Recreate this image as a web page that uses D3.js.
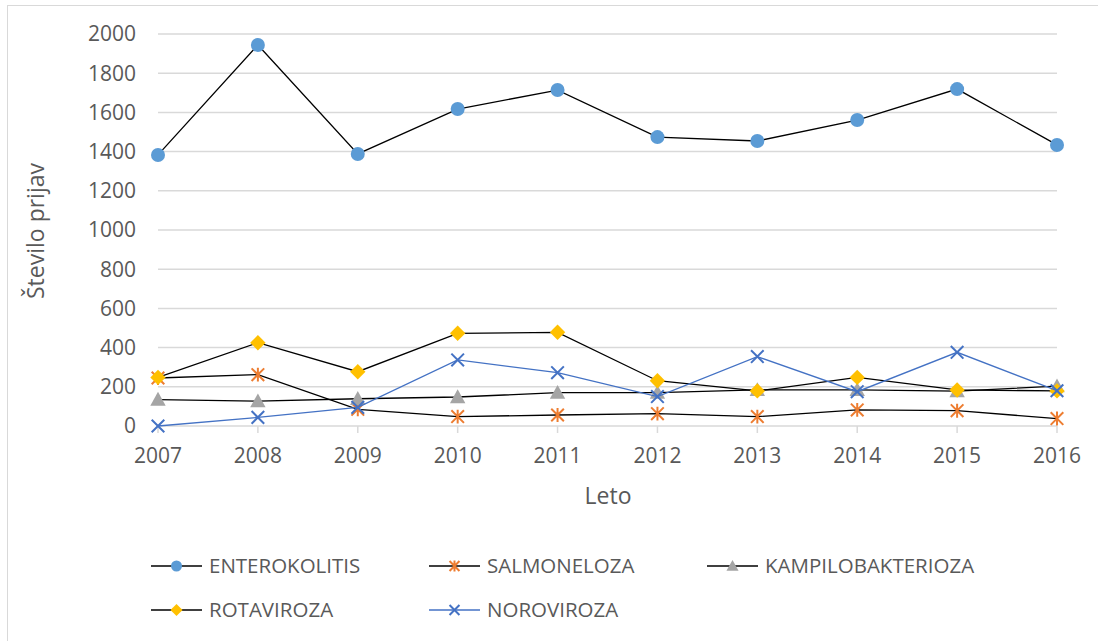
<!DOCTYPE html>
<html><head><meta charset="utf-8">
<script src="https://cdn.jsdelivr.net/npm/d3@7"></script>
<style>body{margin:0;background:#fff}svg{display:block}text{font-family:"Open Sans",sans-serif;fill:#595959}</style>
</head><body><svg id="c" width="1098" height="641"></svg>
<script>
const years = ["2007","2008","2009","2010","2011","2012","2013","2014","2015","2016"];
const yTicks = [0,200,400,600,800,1000,1200,1400,1600,1800,2000];
const enterokolitis = [1383,1944,1388,1617,1714,1474,1454,1561,1719,1434];
const salmoneloza = [245,262,85,48,56,63,48,82,78,38];
const kampilobakterioza = [135,127,139,148,170,170,184,184,178,203];
const rotaviroza = [248,425,277,473,478,231,179,248,184,179];
const noroviroza = [0,44,95,337,272,150,354,175,376,180];
const seriesNames = ["ENTEROKOLITIS","SALMONELOZA","KAMPILOBAKTERIOZA","ROTAVIROZA","NOROVIROZA"];

const series = [
  {name:seriesNames[0], values:enterokolitis, line:"#000", lw:1.3, marker:"circle", color:"#5B9BD5"},
  {name:seriesNames[1], values:salmoneloza, line:"#000", lw:1.3, marker:"star", color:"#ED7D31"},
  {name:seriesNames[2], values:kampilobakterioza, line:"#000", lw:1.3, marker:"triangle", color:"#A5A5A5"},
  {name:seriesNames[3], values:rotaviroza, line:"#000", lw:1.3, marker:"diamond", color:"#FFC000"},
  {name:seriesNames[4], values:noroviroza, line:"#4472C4", lw:1.3, marker:"x", color:"#4472C4"}
];

const svg = d3.select("#c");
svg.append("rect").attr("x",7.5).attr("y",5.5).attr("width",1100).attr("height",700)
  .attr("fill","none").attr("stroke","#D9D9D9").attr("stroke-width",1);

const x = d3.scalePoint().domain(years).range([158,1057]);
const y = d3.scaleLinear().domain([0,2000]).range([426,34]);

svg.append("g").selectAll("line").data(yTicks).join("line")
  .attr("x1",158).attr("x2",1057).attr("y1",d=>y(d)).attr("y2",d=>y(d))
  .attr("stroke","#D9D9D9").attr("stroke-width",1.5);
svg.append("g").selectAll("line").data(years).join("line")
  .attr("x1",d=>x(d)).attr("x2",d=>x(d)).attr("y1",y(0)).attr("y2",y(0)+7)
  .attr("stroke","#D9D9D9").attr("stroke-width",1.5);
svg.append("g").selectAll("text").data(yTicks).join("text")
  .attr("x",136).attr("y",d=>y(d)).attr("dy","0.35em").attr("text-anchor","end")
  .style("font-size","21px").text(d=>d);
svg.append("g").selectAll("text").data(years).join("text")
  .attr("x",d=>x(d)).attr("y",456).attr("dy","0.35em").attr("text-anchor","middle")
  .style("font-size","21px").text(d=>d);
svg.append("text").attr("transform","translate(36,231) rotate(-90)").attr("text-anchor","middle")
  .attr("dy","0.35em").style("font-size","23px").text("Število prijav");
svg.append("text").attr("x",608).attr("y",496).attr("text-anchor","middle")
  .attr("dy","0.35em").style("font-size","23px").text("Leto");

function drawMarker(g, type, cx, cy, color, s){
  if(type==="circle"){
    g.append("circle").attr("cx",cx).attr("cy",cy).attr("r",s*0.5).attr("fill",color);
  } else if(type==="diamond"){
    const r=s*0.55;
    g.append("path").attr("d",`M${cx},${cy-r}L${cx+r},${cy}L${cx},${cy+r}L${cx-r},${cy}Z`).attr("fill",color);
  } else if(type==="triangle"){
    const r=s*0.55;
    g.append("path").attr("d",`M${cx},${cy-r}L${cx+r},${cy+r*0.8}L${cx-r},${cy+r*0.8}Z`).attr("fill",color);
  } else if(type==="x"){
    const r=s*0.45;
    g.append("path").attr("d",`M${cx-r},${cy-r}L${cx+r},${cy+r}M${cx-r},${cy+r}L${cx+r},${cy-r}`)
      .attr("stroke",color).attr("stroke-width",2).attr("fill","none");
  } else if(type==="star"){
    const r=s*0.45;
    g.append("path").attr("d",`M${cx-r},${cy-r}L${cx+r},${cy+r}M${cx-r},${cy+r}L${cx+r},${cy-r}M${cx},${cy-r*1.1}L${cx},${cy+r*1.1}`)
      .attr("stroke",color).attr("stroke-width",2).attr("fill","none");
  }
}

const line = d3.line().x((d,i)=>x(years[i])).y(d=>y(d));
series.forEach(s=>{
  const g = svg.append("g");
  g.append("path").attr("d",line(s.values)).attr("fill","none").attr("stroke",s.line).attr("stroke-width",s.lw);
  s.values.forEach((v,i)=>drawMarker(g,s.marker,x(years[i]),y(v),s.color,14));
});

const legPos = [[151,566],[429,566],[707,566],[151,610],[429,610]];
series.forEach((s,i)=>{
  const [lx,ly] = legPos[i];
  const g = svg.append("g");
  g.append("line").attr("x1",lx).attr("x2",lx+51).attr("y1",ly).attr("y2",ly).attr("stroke",s.line).attr("stroke-width",1.3);
  drawMarker(g,s.marker,lx+25.5,ly,s.color,11);
  g.append("text").attr("x",lx+58).attr("y",ly).attr("dy","0.35em").style("font-size","20.5px").text(s.name);
});
</script></body></html>
